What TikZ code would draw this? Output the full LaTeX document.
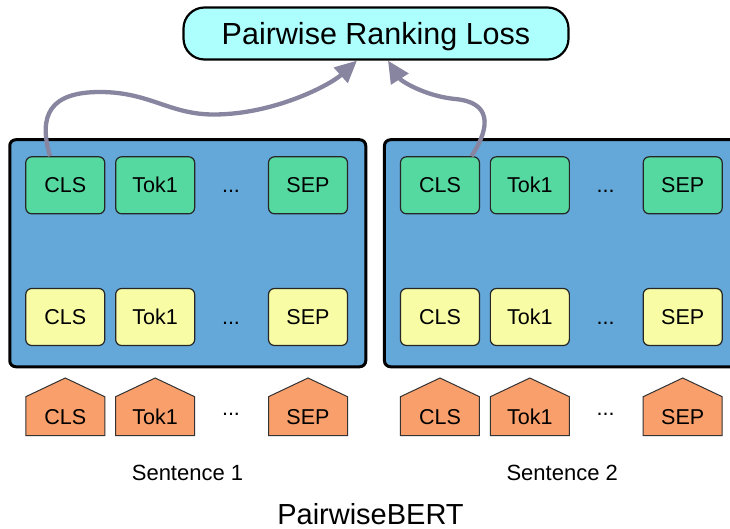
\documentclass[tikz,border=0pt]{standalone}
\usepackage{fontspec}
\setmainfont{Liberation Sans}
\usetikzlibrary{arrows.meta}

\definecolor{encblue}{HTML}{63A8D9}
\definecolor{outgreen}{HTML}{56D9A0}
\definecolor{hidyellow}{HTML}{F8FCA5}
\definecolor{emborange}{HTML}{F99F6B}
\definecolor{losscyan}{HTML}{ADFFFE}
\definecolor{flowgray}{HTML}{8885A0}

\begin{document}
\begin{tikzpicture}[x=1pt,y=-1pt,
  % centre the capitals of a label on the node centre
  capsonly/.style={text height=#1, text depth=0pt},
  encoder/.style={draw=black, line width=3pt, fill=encblue, rounded corners=6pt,
    minimum width=356pt, minimum height=227pt, inner sep=0pt},
  cellbase/.style={draw=black!85, line width=1.2pt, rounded corners=6pt,
    minimum width=79pt, minimum height=57pt, inner sep=0pt, capsonly=15.4pt,
    font=\fontsize{21.5}{25}\selectfont},
  outcell/.style={cellbase, fill=outgreen},
  hidcell/.style={cellbase, fill=hidyellow},
  pentagon/.style={draw=black!80, line width=1pt, fill=emborange},
  emblabel/.style={inner sep=0pt, capsonly=15.4pt, font=\fontsize{21.5}{25}\selectfont},
  ellipsis/.style={inner sep=0pt, anchor=base, font=\fontsize{21.5}{25}\selectfont},
  caption/.style={inner sep=0pt, capsonly=15.8pt, font=\fontsize{22}{26}\selectfont},
  lossbox/.style={draw=black, line width=2.2pt, fill=losscyan, rounded corners=21pt,
    minimum width=385pt, minimum height=52pt, inner sep=0pt, capsonly=21.8pt,
    font=\fontsize{30.5}{35}\selectfont},
  flow/.style={draw=flowgray, line width=4.3pt,
    -{Triangle[length=22pt,width=20pt]}}
]
\useasboundingbox (0,0) rectangle (730,529);

% loss on top
\node[lossbox] (loss) at (376,33.5) {Pairwise Ranking Loss};

% two encoder towers, one per sentence
\foreach \g/\dx/\lab in {1/0/Sentence 1, 2/374.7/Sentence 2}{
  \node[encoder] (enc\g) at (187.75+\dx,253.25) {};

  % output row
  \node[outcell] (ocls\g) at (65.25+\dx,185.3) {CLS};
  \node[outcell] (otok\g) at (155.15+\dx,185.3) {Tok1};
  \node[outcell] (osep\g) at (308+\dx,185.3) {SEP};
  \node[ellipsis] (odots\g) at (231+\dx,193) {...};

  % hidden row
  \node[hidcell] (hcls\g) at (65.25+\dx,317) {CLS};
  \node[hidcell] (htok\g) at (155.15+\dx,317) {Tok1};
  \node[hidcell] (hsep\g) at (308+\dx,317) {SEP};
  \node[ellipsis] (hdots\g) at (231+\dx,324) {...};

  % input embeddings
  \foreach \cx/\name/\txt in {65.25/ecls/CLS, 155.15/etok/Tok1, 308/esep/SEP}{
    \draw[pentagon] (\cx-39.5+\dx,435.5) -- (\cx-39.5+\dx,396.7) -- (\cx+\dx,378)
      -- (\cx+39.5+\dx,396.7) -- (\cx+39.5+\dx,435.5) -- cycle;
    \node[emblabel] (\name\g) at (\cx+\dx,416.5) {\txt};
  }
  \node[ellipsis] (edots\g) at (231+\dx,415) {...};

  \node[caption] (sent\g) at (187.5+\dx,472.5) {\lab};
}

\node[inner sep=0pt, capsonly=20.8pt, font=\fontsize{29}{34}\selectfont] (title) at (370.5,514) {PairwiseBERT};

% CLS outputs feeding the loss
\draw[flow] ([xshift=-15.25pt]ocls1.north)
  .. controls (38,115) and (50,92) .. (100,92)
  .. controls (150,92) and (170,115) .. (215,114.5)
  .. controls (275,114) and (330,85) .. ([xshift=-19pt]loss.south);
\draw[flow] ([xshift=31.5pt]ocls2.north)
  .. controls (492,125) and (490,102) .. (455,99)
  .. controls (425,96) and (401,81) .. ([xshift=12pt]loss.south);
\end{tikzpicture}
\end{document}
